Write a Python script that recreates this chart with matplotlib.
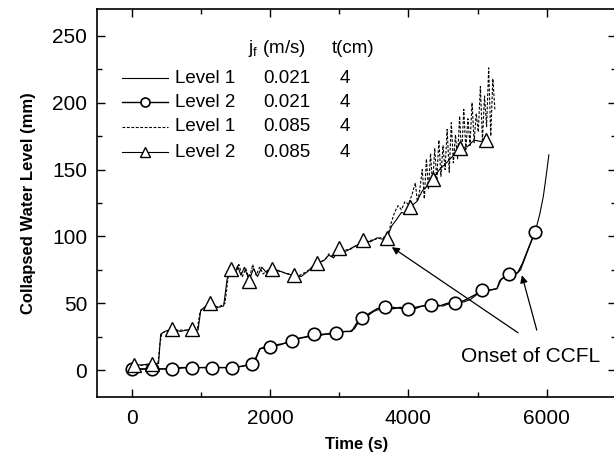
"""
Collapsed water level vs time - CCFL onset
"""
import matplotlib
matplotlib.use('Agg')
import matplotlib.pyplot as plt
from matplotlib.ticker import MultipleLocator

plt.rcParams['font.family'] = ['Liberation Sans', 'DejaVu Sans']
plt.rcParams['mathtext.fontset'] = 'custom'
plt.rcParams['mathtext.rm'] = 'Liberation Sans'
plt.rcParams['mathtext.it'] = 'Liberation Sans:italic'

# Level 1, jf = 0.021 m/s (solid line)
t_l1a = [0, 200, 400, 600, 800, 1000, 1200, 1400, 1600, 1700,
         1760, 1820, 1860, 1950, 2050, 2150, 2250, 2350, 2450, 2550,
         2650, 2750, 2850, 2950, 3050, 3150, 3220, 3280, 3350, 3420,
         3500, 3600, 3700, 3800, 3900, 4000, 4100, 4200, 4300, 4400,
         4500, 4600, 4700, 4800, 4900, 5000, 5100, 5200, 5280, 5320,
         5400, 5500, 5560, 5620, 5700, 5780, 5850, 5900, 5950, 5990, 6030]
y_l1a = [0, 1, 1, 1, 2, 2, 2, 2, 3, 4,
         6, 12, 16, 17, 18, 19, 21, 23, 24, 25,
         27, 27, 27, 28, 29, 29, 31, 36, 40, 41,
         44, 46, 47, 47, 46, 47, 46, 48, 49, 49,
         48, 50, 51, 51, 53, 57, 60, 60, 61, 67,
         70, 72, 72, 75, 86, 97, 107, 117, 130, 145, 161]

# Level 2, jf = 0.021 m/s (circles)
t_l2a = [0, 150, 290, 430, 580, 720, 870, 1010, 1160, 1300,
         1450, 1600, 1740, 1800, 1850, 1900, 2000, 2100, 2200, 2320,
         2420, 2520, 2640, 2720, 2800, 2960, 3100, 3180, 3250, 3330,
         3450, 3550, 3660, 3780, 3880, 3990, 4100, 4200, 4330, 4450,
         4560, 4680, 4800, 4950, 5070, 5180, 5280, 5340, 5450, 5520,
         5580, 5650, 5740, 5830]
y_l2a = [1, 1, 1, 1, 1, 2, 2, 2, 2, 2,
         2, 3, 5, 9, 16, 17, 17, 19, 20, 22,
         24, 25, 27, 26, 27, 28, 29, 29, 35, 39,
         43, 46, 47, 46, 47, 46, 47, 48, 49, 48,
         50, 50, 52, 56, 60, 60, 61, 68, 72, 72,
         73, 80, 92, 103]
marks_l2a = [0, 290, 580, 870, 1160, 1450, 1740, 2000, 2320, 2640,
             2960, 3330, 3660, 3990, 4330, 4680, 5070, 5450, 5830]

# Level 1, jf = 0.085 m/s (dashed line)
t_l1b = [0, 200, 380, 410, 440, 600, 800, 950, 990, 1100,
         1250, 1350, 1400, 1450, 1500, 1550, 1600, 1650, 1700, 1750,
         1800, 1850, 1900, 2000, 2200, 2400, 2600, 2700, 2800, 2850,
         2900, 3000, 3150, 3300, 3450, 3600, 3700, 3750, 3800, 3850,
         3900, 3950, 4000, 4050, 4100, 4130, 4160, 4200, 4230, 4260,
         4290, 4320, 4350, 4380, 4410, 4440, 4470, 4500, 4530, 4560,
         4590, 4620, 4650, 4680, 4710, 4740, 4770, 4800, 4830, 4860,
         4890, 4920, 4950, 4980, 5010, 5040, 5070, 5100, 5130, 5160,
         5190, 5220, 5250]
y_l1b = [3, 4, 5, 20, 28, 30, 30, 31, 44, 49,
         47, 50, 72, 75, 71, 79, 70, 76, 68, 79,
         71, 77, 72, 76, 73, 70, 76, 80, 83, 87,
         85, 90, 90, 95, 97, 99, 100, 110, 118, 123,
         120, 126, 124, 131, 140, 126, 133, 150, 128, 158,
         135, 162, 138, 166, 142, 172, 145, 168, 150, 180,
         148, 185, 155, 176, 158, 190, 160, 195, 165, 188,
         168, 200, 170, 192, 178, 212, 172, 205, 182, 226,
         175, 218, 195]

# Level 2, jf = 0.085 m/s (triangles)
t_l2b = [30, 150, 300, 390, 420, 480, 590, 700, 800, 870,
         960, 1000, 1080, 1140, 1250, 1330, 1380, 1430, 1480, 1530,
         1580, 1630, 1700, 1760, 1820, 1880, 1950, 2030, 2150, 2250,
         2350, 2450, 2550, 2620, 2680, 2780, 2850, 2920, 3000, 3100,
         3200, 3280, 3340, 3450, 3550, 3620, 3690, 3760, 3820, 3900,
         3960, 4020, 4120, 4200, 4280, 4350, 4450, 4550, 4640, 4740,
         4850, 4950, 5040, 5120]
y_l2b = [4, 4, 5, 5, 27, 29, 31, 29, 30, 31,
         30, 45, 48, 50, 47, 48, 68, 76, 70, 78,
         71, 77, 67, 76, 70, 77, 73, 76, 74, 72,
         71, 70, 74, 78, 80, 82, 86, 84, 91, 89,
         92, 94, 97, 96, 99, 98, 99, 108, 112, 118,
         117, 122, 126, 134, 138, 143, 150, 155, 160, 166,
         167, 172, 171, 172]
marks_l2b = [30, 300, 590, 870, 1140, 1430, 1700, 2030, 2350, 2680,
             3000, 3340, 3690, 4020, 4350, 4740, 5120]

# legend table rows
leg_level = ['Level 1', 'Level 2', 'Level 1', 'Level 2']
leg_jf = ['0.021', '0.021', '0.085', '0.085']
leg_t = ['4', '4', '4', '4']

# CCFL onset points (arrow tips) and label
onset_t = [3760, 5640]
onset_y = [92, 71]

fig = plt.figure(figsize=(6.14, 4.55), dpi=100)
ax = fig.add_axes([97/614, 58/455, 519/614, 388/455])

styles = [
    dict(ls='-', lw=0.8, marker=None),
    dict(ls='-', lw=1.0, marker='o', ms=9, mfc='white', mec='black', mew=1.2),
    dict(ls=(0, (2.5, 1.5)), lw=0.8, marker=None),
    dict(ls='-', lw=0.8, marker='^', ms=10, mfc='white', mec='black', mew=1.0),
]

ax.plot(t_l1a, y_l1a, color='black', **styles[0])
ax.plot(t_l2a, y_l2a, color='black', markevery=[t_l2a.index(m) for m in marks_l2a], **styles[1])
ax.plot(t_l1b, y_l1b, color='black', **styles[2])
ax.plot(t_l2b, y_l2b, color='black', markevery=[t_l2b.index(m) for m in marks_l2b], **styles[3])

# legend drawn as a small table
row_y = [0.822, 0.760, 0.696, 0.631]
for i in range(4):
    st = dict(styles[i])
    mk = st.pop('marker')
    ax.plot([0.048, 0.137], [row_y[i], row_y[i]], color='black', transform=ax.transAxes,
            clip_on=False, **{k: v for k, v in st.items() if k in ('ls', 'lw')})
    if mk:
        ax.plot([0.0925], [row_y[i]], color='black', transform=ax.transAxes, marker=mk,
                ms=st['ms'] - 2.5, mfc='white', mec='black', mew=st['mew'], ls='none')
    ax.text(0.150, row_y[i], leg_level[i], transform=ax.transAxes, fontsize=13.5, va='center')
    ax.text(0.320, row_y[i], leg_jf[i], transform=ax.transAxes, fontsize=13.5, va='center')
    ax.text(0.468, row_y[i], leg_t[i], transform=ax.transAxes, fontsize=13.5, va='center')
ax.text(0.291, 0.899, r'j$_\mathrm{f}$ (m/s)', transform=ax.transAxes, fontsize=13.5, va='center')
ax.text(0.453, 0.899, 't(cm)', transform=ax.transAxes, fontsize=13.5, va='center')

# onset of CCFL annotation
ax.text(5760, 10, 'Onset of CCFL', fontsize=15, ha='center', va='center')
arrow_from = [(5585, 28), (5855, 30)]
for i in range(2):
    ax.annotate('', xy=(onset_t[i], onset_y[i]), xytext=arrow_from[i],
                arrowprops=dict(arrowstyle='-|>', lw=0.9, color='black', mutation_scale=11,
                                shrinkA=0, shrinkB=0))

ax.set_xlim(-500, 7000)
ax.set_ylim(-20, 270)
ax.set_xticks([0, 2000, 4000, 6000])
ax.set_yticks([0, 50, 100, 150, 200, 250])
ax.xaxis.set_minor_locator(MultipleLocator(1000))
ax.yaxis.set_minor_locator(MultipleLocator(25))
ax.tick_params(which='both', direction='in', top=True, right=True, labelsize=15, width=1.0)
ax.tick_params(which='major', length=6, pad=7)
ax.tick_params(axis='x', which='major', pad=9)
ax.tick_params(which='minor', length=3.5)
for sp in ax.spines.values():
    sp.set_linewidth(1.2)

ax.set_xlabel('Time (s)', fontsize=12, fontweight='bold')
ax.set_ylabel('Collapsed Water Level (mm)', fontsize=12, fontweight='bold')
ax.xaxis.set_label_coords(0.5, -0.102)
ax.yaxis.set_label_coords(-0.118, 0.5)

plt.savefig('out.png', dpi=100, facecolor='white')
plt.close()
